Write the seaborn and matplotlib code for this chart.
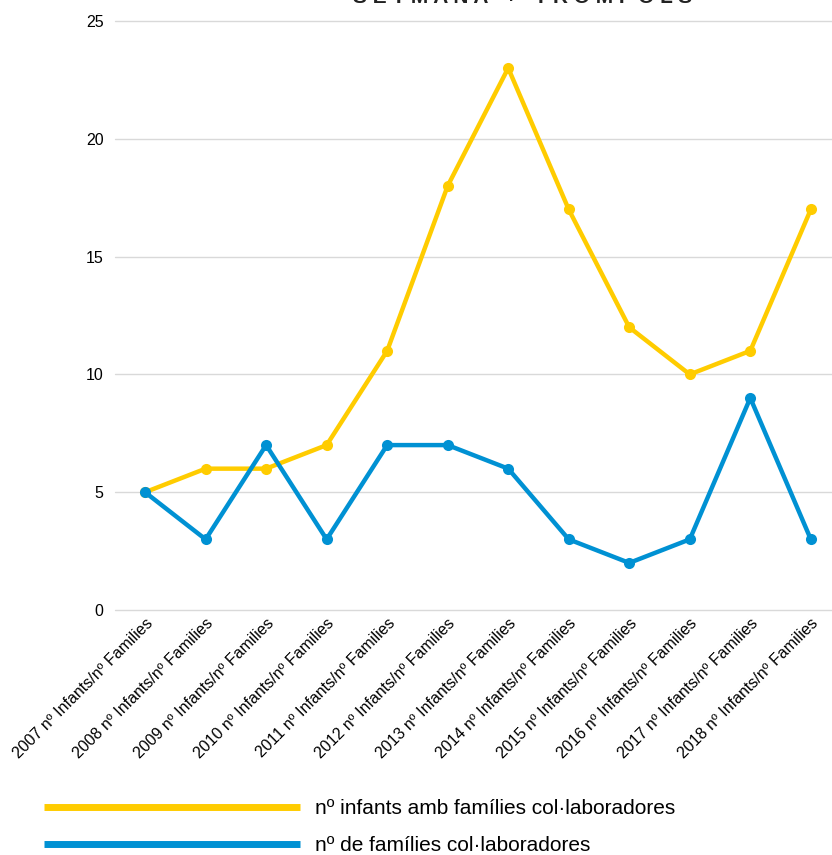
"""Line chart: infants and collaborating families per year."""

import matplotlib
matplotlib.use("Agg")
import matplotlib.pyplot as plt
import pandas as pd
import seaborn as sns

years = ["2007", "2008", "2009", "2010", "2011", "2012",
         "2013", "2014", "2015", "2016", "2017", "2018"]
tick_labels = [f"{y} nº Infants/nº Families" for y in years]
infants = [5, 6, 6, 7, 11, 18, 23, 17, 12, 10, 11, 17]
families = [5, 3, 7, 3, 7, 7, 6, 3, 2, 3, 9, 3]
series_names = ["nº infants amb famílies col·laboradores",
                "nº de famílies col·laboradores"]
title_text = "S E T M A N A   +   T R O M P O L S"

YELLOW = "#FFCC00"
BLUE = "#0091D3"

df = pd.DataFrame({
    "x": list(range(len(years))) * 2,
    "value": infants + families,
    "serie": [series_names[0]] * len(years) + [series_names[1]] * len(years),
})

sns.set_theme(style="white")
plt.rcParams["font.family"] = ["Liberation Sans", "DejaVu Sans"]

fig = plt.figure(figsize=(8.32, 8.55), dpi=100)
ax = fig.add_axes([0.138, 0.2865, 0.862, 0.689])

sns.lineplot(data=df, x="x", y="value", hue="serie",
             palette=[YELLOW, BLUE], marker="o", markersize=8,
             markeredgewidth=0, linewidth=3.2, ax=ax, legend=False)

ax.set_xlim(-0.5, 11.35)
ax.set_ylim(0, 25)
ax.set_yticks([0, 5, 10, 15, 20, 25])
ax.set_xticks(range(len(years)))
ax.set_xticklabels(tick_labels, rotation=45, ha="right",
                   rotation_mode="anchor", fontsize=11.5, color="black")
ax.tick_params(axis="y", labelsize=11.5, pad=8, length=0, labelcolor="black")
ax.tick_params(axis="x", length=0, pad=4)
ax.set_xlabel("")
ax.set_ylabel("")
ax.yaxis.grid(True, color="#d9d9d9", linewidth=1)
for gl in ax.get_ygridlines():
    gl.set_clip_on(False)
ax.set_axisbelow(True)
sns.despine(ax=ax, left=True, bottom=True, right=True, top=True)

# title sits mostly above the canvas in the original
fig.text(0.628, 0.9965, title_text, ha="center", va="baseline",
         fontsize=15, fontweight="bold", color="#222222")

handles = [plt.Line2D([], [], color=YELLOW, linewidth=5, solid_capstyle="butt"),
           plt.Line2D([], [], color=BLUE, linewidth=5, solid_capstyle="butt")]
fig.legend(handles, series_names, loc="lower left",
           bbox_to_anchor=(0.030, -0.022), frameon=False, fontsize=15,
           handlelength=12.3, handletextpad=0.7, labelspacing=0.85,
           labelcolor="black")

fig.savefig("out.png", dpi=100)
